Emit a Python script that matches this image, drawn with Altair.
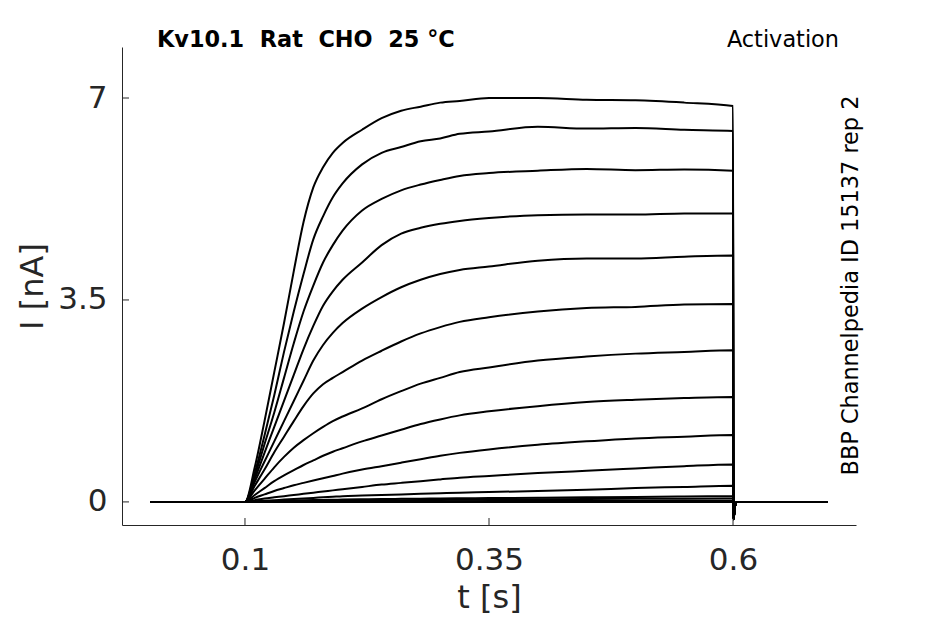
import altair as alt
import pandas as pd

# ---- data ----
T_PRE = [0.003]
T_STEP = [0.10, 0.11, 0.12, 0.13, 0.14, 0.15, 0.16, 0.17, 0.18, 0.19, 0.20,
          0.22, 0.24, 0.26, 0.28, 0.30, 0.32, 0.35, 0.40, 0.45, 0.50, 0.55, 0.60]
T_TAIL = [0.6005, 0.602, 0.604, 0.697]
I_TAIL = [-0.30, -0.08, 0.0, 0.0]

I1 = [0, 0.60, 1.40, 2.25, 3.10, 4.00, 4.85, 5.45, 5.80, 6.05, 6.22, 6.45, 6.65, 6.78, 6.85, 6.92, 6.95, 7.00, 7.00, 6.97, 6.96, 6.92, 6.86]
I2 = [0, 0.50, 1.15, 1.85, 2.60, 3.30, 3.95, 4.55, 4.95, 5.28, 5.52, 5.85, 6.05, 6.15, 6.25, 6.30, 6.38, 6.42, 6.50, 6.47, 6.48, 6.45, 6.43]
I3 = [0, 0.45, 1.00, 1.55, 2.15, 2.75, 3.30, 3.75, 4.15, 4.45, 4.70, 5.05, 5.25, 5.40, 5.50, 5.58, 5.65, 5.70, 5.74, 5.77, 5.75, 5.76, 5.74]
I4 = [0, 0.40, 0.85, 1.30, 1.75, 2.20, 2.65, 3.05, 3.40, 3.65, 3.85, 4.15, 4.45, 4.65, 4.75, 4.82, 4.87, 4.92, 4.97, 4.98, 4.98, 5.00, 5.00]
I5 = [0, 0.35, 0.70, 1.05, 1.40, 1.75, 2.10, 2.45, 2.72, 2.93, 3.10, 3.35, 3.55, 3.72, 3.85, 3.95, 4.02, 4.08, 4.18, 4.22, 4.22, 4.25, 4.27]
I6 = [0, 0.28, 0.56, 0.86, 1.13, 1.40, 1.66, 1.88, 2.04, 2.15, 2.25, 2.45, 2.62, 2.78, 2.92, 3.03, 3.12, 3.20, 3.30, 3.36, 3.38, 3.42, 3.43]
I7 = [0, 0.20, 0.40, 0.60, 0.78, 0.94, 1.07, 1.19, 1.30, 1.40, 1.48, 1.62, 1.78, 1.92, 2.05, 2.15, 2.25, 2.33, 2.45, 2.52, 2.57, 2.60, 2.63]
I8 = [0, 0.12, 0.24, 0.36, 0.46, 0.55, 0.64, 0.72, 0.80, 0.87, 0.93, 1.05, 1.15, 1.25, 1.35, 1.43, 1.50, 1.57, 1.66, 1.73, 1.77, 1.80, 1.82]
I9 = [0, 0.07, 0.13, 0.19, 0.24, 0.29, 0.33, 0.37, 0.41, 0.45, 0.49, 0.56, 0.62, 0.68, 0.74, 0.80, 0.85, 0.91, 0.99, 1.05, 1.10, 1.13, 1.16]
I10 = [0, 0.03, 0.06, 0.08, 0.10, 0.12, 0.14, 0.16, 0.18, 0.20, 0.22, 0.26, 0.30, 0.33, 0.36, 0.39, 0.42, 0.45, 0.50, 0.54, 0.58, 0.62, 0.65]
I11 = [0, 0.01, 0.02, 0.03, 0.04, 0.05, 0.06, 0.07, 0.08, 0.09, 0.10, 0.11, 0.12, 0.13, 0.14, 0.15, 0.16, 0.17, 0.19, 0.21, 0.24, 0.26, 0.28]
I12 = [0, 0.005, 0.01, 0.015, 0.02, 0.025, 0.03, 0.032, 0.035, 0.037, 0.04, 0.045, 0.05, 0.053, 0.056, 0.06, 0.063, 0.067, 0.073, 0.08, 0.087, 0.094, 0.10]
I13 = [0, 0.003, 0.006, 0.009, 0.012, 0.015, 0.017, 0.019, 0.02, 0.021, 0.022, 0.025, 0.028, 0.03, 0.033, 0.035, 0.038, 0.041, 0.045, 0.05, 0.054, 0.057, 0.06]
I14 = [0, 0.001, 0.002, 0.003, 0.004, 0.005, 0.006, 0.006, 0.007, 0.007, 0.008, 0.009, 0.01, 0.011, 0.012, 0.013, 0.013, 0.014, 0.015, 0.016, 0.018, 0.019, 0.02]
I15 = [0, 0, 0.001, 0.001, 0.002, 0.002, 0.003, 0.003, 0.003, 0.004, 0.004, 0.004, 0.005, 0.005, 0.006, 0.006, 0.006, 0.007, 0.007, 0.008, 0.009, 0.009, 0.01]
I16 = [0, 0, 0, 0, 0, 0, 0, 0, 0, 0, 0, 0, 0, 0, 0, 0, 0, 0, 0, 0, 0, 0, 0]
TRACES = [I1, I2, I3, I4, I5, I6, I7, I8, I9, I10, I11, I12, I13, I14, I15, I16]

X_TICKS = [0.1, 0.35, 0.6]
Y_TICKS = [0, 3.5, 7]
TITLE_LEFT = "Kv10.1\u00a0 Rat\u00a0 CHO\u00a0 25 °C"
TITLE_RIGHT = "Activation"
SIDE_TEXT = "BBP Channelpedia ID 15137 rep 2"

# ---- build long table ----
rows = []
for k, tr in enumerate(TRACES):
    idx = 0
    for t in T_PRE:
        rows.append({"trace": k, "idx": idx, "t": t, "i": 0.0}); idx += 1
    for t, v in zip(T_STEP, tr):
        rows.append({"trace": k, "idx": idx, "t": t, "i": v}); idx += 1
    for t, v in zip(T_TAIL, I_TAIL):
        rows.append({"trace": k, "idx": idx, "t": t, "i": v}); idx += 1
df = pd.DataFrame(rows)

FONT = "DejaVu Sans"
AX = "#262626"
W, H = 734, 478

x_scale = alt.Scale(domain=[-0.026, 0.726], nice=False, zero=False)
y_scale = alt.Scale(domain=[-0.4, 7.884], nice=False, zero=False)

x_axis = alt.Axis(values=X_TICKS, format="~g", title="t [s]", grid=False, ticks=False,
                  domainColor=AX, domainWidth=1, labelFont=FONT, labelFontSize=31, labelColor=AX,
                  labelPadding=20, labelFlush=False, titleFont=FONT, titleFontSize=32,
                  titleFontWeight="normal", titleColor=AX, titleBaseline="alphabetic",
                  titleX=W / 2, titleY=82)
y_axis = alt.Axis(values=Y_TICKS, format="~g", title="I [nA]", grid=False, ticks=False,
                  domainColor=AX, domainWidth=1, labelFont=FONT, labelFontSize=31, labelColor=AX,
                  labelPadding=15, labelFlush=False, titleFont=FONT, titleFontSize=32,
                  titleFontWeight="normal", titleColor=AX, titleBaseline="alphabetic",
                  titleX=-80, titleY=H / 2, titleAngle=270)

lines = alt.Chart(df).mark_line(color="black", strokeWidth=2, strokeJoin="round",
                                interpolate="monotone").encode(
    x=alt.X("t:Q", scale=x_scale, axis=x_axis),
    y=alt.Y("i:Q", scale=y_scale, axis=y_axis),
    detail="trace:N",
    order="idx:Q",
)

xt = alt.Chart(pd.DataFrame({"t": X_TICKS})).mark_rule(color=AX, strokeWidth=1).encode(
    x=alt.X("t:Q", scale=x_scale), y=alt.value(H), y2=alt.value(H - 7))
yt = alt.Chart(pd.DataFrame({"i": Y_TICKS})).mark_rule(color=AX, strokeWidth=1).encode(
    y=alt.Y("i:Q", scale=y_scale), x=alt.value(0), x2=alt.value(7))

t_left = alt.Chart(pd.DataFrame({"s": [TITLE_LEFT]})).mark_text(
    font=FONT, fontSize=22.4, fontWeight="bold", align="left", baseline="alphabetic", color="black"
).encode(text="s:N", x=alt.value(35), y=alt.value(0))
t_right = alt.Chart(pd.DataFrame({"s": [TITLE_RIGHT]})).mark_text(
    font=FONT, fontSize=22.4, align="right", baseline="alphabetic", color="black"
).encode(text="s:N", x=alt.value(717), y=alt.value(0))
t_side = alt.Chart(pd.DataFrame({"s": [SIDE_TEXT]})).mark_text(
    font=FONT, fontSize=22.4, align="center", baseline="alphabetic", angle=270, color="black"
).encode(text="s:N", x=alt.value(736), y=alt.value(238.5))

chart = alt.layer(lines, xt, yt, t_left, t_right, t_side).properties(
    width=W, height=H,
    autosize=alt.AutoSizeParams(type="none"),
    padding={"left": 114, "top": 39, "right": 70, "bottom": 90},
).configure_view(strokeWidth=0)

chart.save("out.html", embed_options={"renderer": "svg", "actions": False})
